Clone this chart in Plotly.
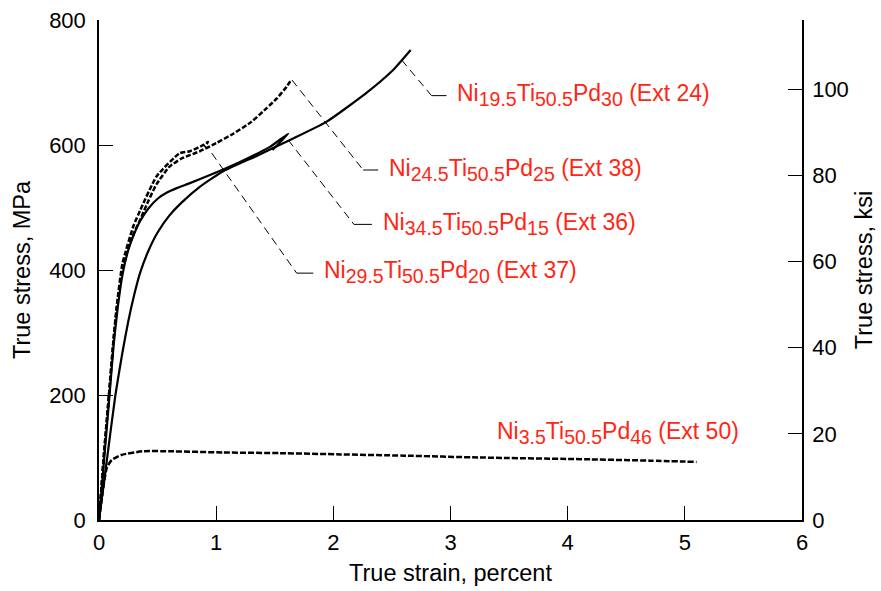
import plotly.graph_objects as go

# ---- data (true strain %, true stress MPa) ----
ext24_x = [0, 0.07, 0.14, 0.2, 0.25, 0.3, 0.35, 0.42, 0.5, 0.6, 0.7, 0.86, 1.06, 1.35, 1.63, 1.94, 2.28, 2.51, 2.66]
ext24_y = [0, 100, 200, 268, 318, 360, 395, 430, 460, 487, 507, 533, 558, 583, 608, 637, 683, 720, 752]

ext36_x = [0, 0.045, 0.09, 0.125, 0.16, 0.2, 0.25, 0.3, 0.35, 0.42, 0.5, 0.58, 0.663, 0.776, 0.947, 1.203, 1.459, 1.615, 1.48]
ext36_y = [0, 100, 200, 280, 340, 392, 432, 458, 478, 498, 514, 524, 531, 539, 552, 573, 597, 618, 592]

ext38_x = [0, 0.04, 0.085, 0.125, 0.16, 0.2, 0.25, 0.3, 0.35, 0.42, 0.49, 0.6, 0.7, 0.86, 1.0, 1.146, 1.3, 1.431, 1.52, 1.6, 1.644]
ext38_y = [0, 100, 200, 290, 350, 400, 435, 460, 480, 510, 537, 565, 578, 590, 603, 618, 637, 659, 675, 693, 705]

ext37_x = [0, 0.04, 0.085, 0.12, 0.15, 0.2, 0.293, 0.35, 0.492, 0.69, 0.776, 0.89, 0.93, 0.9]
ext37_y = [0, 100, 200, 280, 340, 410, 470, 495, 550, 587, 590, 600, 605, 597]

ext50_x = [0, 0.066, 0.108, 0.19, 0.378, 0.6, 1.06, 1.545, 2.06, 2.6, 3.25, 4.2, 4.7, 5.10]
ext50_y = [0, 83, 96, 104, 110, 110, 108, 107, 105, 103, 100, 97, 95, 93]

# label texts and leader lines (strain, stress): start on curve, elbow, end
SUB = "<sub><span style='font-size:19.5px'>{}</span></sub>"
def chem(ni, pd, ext):
    return "Ni" + SUB.format(ni) + "Ti" + SUB.format("50.5") + "Pd" + SUB.format(pd) + " (Ext " + ext + ")"

labels = [
    chem("19.5", "30", "24"),
    chem("24.5", "25", "38"),
    chem("34.5", "15", "36"),
    chem("29.5", "20", "37"),
    chem("3.5", "46", "50"),
]
label_x = [3.04, 2.457, 2.406, 1.903, 3.379]
label_y = [680, 560, 473, 397, 139]
leader_start = [(2.583, 736), (1.647, 704), (1.615, 608), (0.962, 587)]
leader_elbow = [(2.838, 679), (2.255, 560), (2.176, 473), (1.687, 395)]
leader_end = [(2.966, 679), (2.383, 560), (2.329, 473), (1.829, 395)]

MPA_PER_KSI = 6.895
RED = "rgb(255,38,20)"
FONT = "Liberation Sans, Arial, sans-serif"

fig = go.Figure()

def curve(x, y, dash, w=2.2):
    fig.add_trace(go.Scatter(x=x, y=y, mode="lines",
                             line=dict(color="black", width=w, dash=dash, shape="spline", smoothing=0.5),
                             showlegend=False, hoverinfo="skip"))

curve(ext24_x, ext24_y, "solid")
curve(ext36_x, ext36_y, "solid")
curve(ext38_x, ext38_y, "5px,2px", 2.5)
curve(ext37_x, ext37_y, "5px,2px", 2.5)
curve(ext50_x, ext50_y, "6px,2px", 2.5)

for s, e, f in zip(leader_start, leader_elbow, leader_end):
    fig.add_trace(go.Scatter(x=[s[0], e[0]], y=[s[1], e[1]], mode="lines",
                             line=dict(color="black", width=1, dash="8px,5px"),
                             showlegend=False, hoverinfo="skip"))
    fig.add_trace(go.Scatter(x=[e[0], f[0]], y=[e[1], f[1]], mode="lines",
                             line=dict(color="black", width=1),
                             showlegend=False, hoverinfo="skip"))

# invisible trace on right axis (ksi)
fig.add_trace(go.Scatter(x=[0], y=[0], yaxis="y2", mode="markers",
                         marker=dict(opacity=0), showlegend=False, hoverinfo="skip"))

for t, x, y in zip(labels, label_x, label_y):
    fig.add_annotation(x=x, y=y, text=t, showarrow=False, xanchor="left", yanchor="middle",
                       font=dict(color=RED, size=23, family=FONT))

axis_common = dict(showline=True, linecolor="black", linewidth=1.5, ticks="inside",
                   ticklen=14, tickwidth=1.2, tickcolor="black", showgrid=False, zeroline=False,
                   automargin=False,
                   tickfont=dict(size=22, color="black", family=FONT))
TITLE_FONT = dict(size=23.5, color="black", family=FONT)

fig.update_layout(
    width=881, height=591,
    margin=dict(l=99, r=79, t=20, b=71, autoexpand=False),
    plot_bgcolor="white", paper_bgcolor="white",
    font=dict(family=FONT, size=22, color="black"),
    xaxis=dict(range=[0, 6], dtick=1, ticklabelstandoff=2,
               title=dict(text="True strain, percent", standoff=10, font=TITLE_FONT), **axis_common),
    yaxis=dict(range=[0, 800], dtick=200, ticklabelstandoff=7,
               title=dict(text="True stress, MPa", standoff=12, font=TITLE_FONT), **axis_common),
    yaxis2=dict(range=[0, 800 / MPA_PER_KSI], tickvals=[0, 20, 40, 60, 80, 100], overlaying="y", side="right",
                anchor="x", ticklabelstandoff=4,
                title=dict(text="True stress, ksi", standoff=8, font=TITLE_FONT), **axis_common),
)

fig.write_html("out.html")
